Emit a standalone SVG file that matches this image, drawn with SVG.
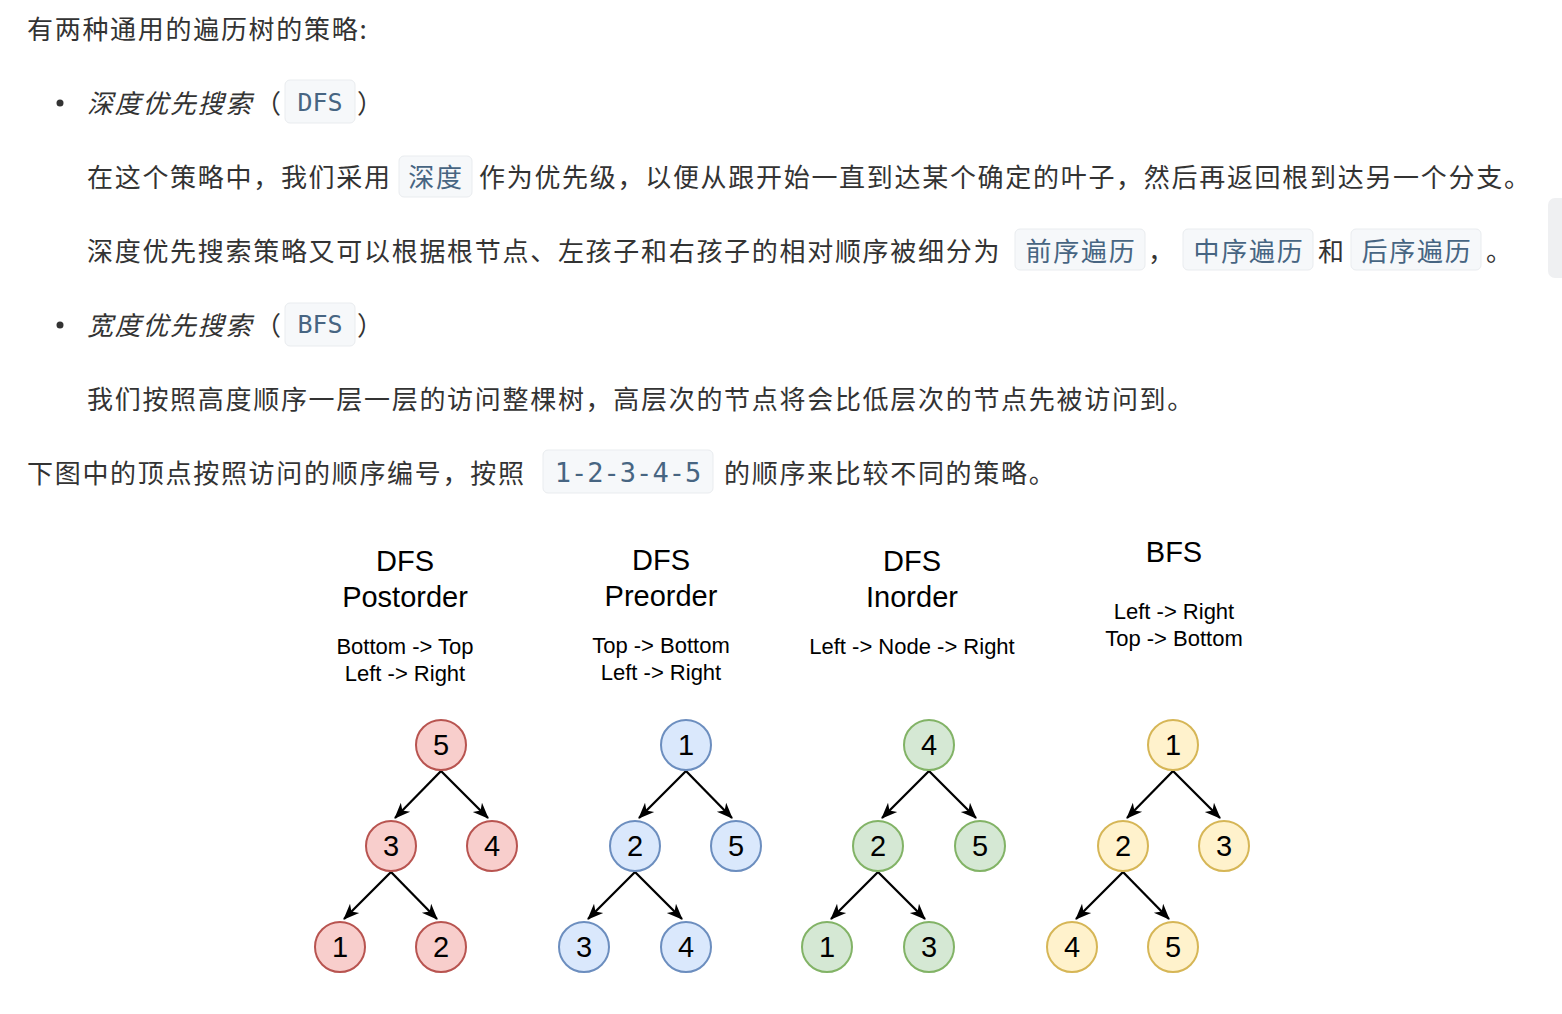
<svg xmlns="http://www.w3.org/2000/svg" width="1562" height="1014" viewBox="0 0 1562 1014">
<style>
.t{font-family:"Noto Sans CJK SC","Noto Sans",sans-serif;font-size:26px;letter-spacing:1.7px;fill:#333;dominant-baseline:central}
.it{font-style:italic}
.cb{fill:#f6f8fa;stroke:#e9ecef;stroke-width:1}
.ct{font-family:"Noto Sans CJK SC",sans-serif;font-size:26px;letter-spacing:1.7px;fill:#476582;dominant-baseline:central;text-anchor:middle}
.mono{font-family:"DejaVu Sans Mono","Liberation Mono",monospace;font-size:25px;letter-spacing:0;fill:#476582;dominant-baseline:central;text-anchor:middle}
.h{font-family:"Liberation Sans",Arial,sans-serif;font-size:29px;fill:#000;text-anchor:middle;dominant-baseline:central}
.s{font-family:"Liberation Sans",Arial,sans-serif;font-size:22px;fill:#000;text-anchor:middle;dominant-baseline:central}
.n{font-family:"Liberation Sans",Arial,sans-serif;font-size:29px;fill:#000;text-anchor:middle;dominant-baseline:central}
.red{fill:#f8cecc;stroke:#b85450;stroke-width:2}
.blue{fill:#dae8fc;stroke:#6c8ebf;stroke-width:2}
.green{fill:#d5e8d4;stroke:#82b366;stroke-width:2}
.yel{fill:#fff2cc;stroke:#d6b656;stroke-width:2}
.e{stroke:#000;stroke-width:2.3;fill:none;marker-end:url(#ah)}
</style>
<defs>
<marker id="ah" markerUnits="userSpaceOnUse" markerWidth="16" markerHeight="16" viewBox="0 0 16 16" refX="15" refY="8" orient="auto">
<path d="M0,1.5 L16,8 L0,14.5 L4.5,8 z" fill="#000"/>
</marker>
</defs>
<rect width="1562" height="1014" fill="#fff"/>

<g id="article">
<text class="t" x="27" y="27">有两种通用的遍历树的策略:</text>

<circle cx="60" cy="103" r="3.5" fill="#333"/>
<text class="t it" x="87" y="101">深度优先搜索</text>
<text class="t" x="255" y="101">（</text>
<rect class="cb" x="285" y="80" width="70" height="43" rx="5"/>
<text class="mono" x="320" y="102">DFS</text>
<text class="t" x="357" y="101">）</text>

<text class="t" x="87" y="175">在这个策略中，我们采用</text>
<rect class="cb" x="399" y="156" width="73" height="41" rx="5"/>
<text class="ct" x="436" y="175">深度</text>
<text class="t" x="479" y="175">作为优先级，以便从跟开始一直到达某个确定的叶子，然后再返回根到达另一个分支。</text>

<text class="t" x="87" y="249">深度优先搜索策略又可以根据根节点、左孩子和右孩子的相对顺序被细分为</text>
<rect class="cb" x="1015" y="229" width="130" height="41" rx="5"/>
<text class="ct" x="1081" y="249">前序遍历</text>
<text class="t" x="1148" y="249">，</text>
<rect class="cb" x="1183" y="229" width="130" height="41" rx="5"/>
<text class="ct" x="1249" y="249">中序遍历</text>
<text class="t" x="1318" y="249">和</text>
<rect class="cb" x="1351" y="229" width="130" height="41" rx="5"/>
<text class="ct" x="1417" y="249">后序遍历</text>
<text class="t" x="1486" y="249">。</text>

<circle cx="60" cy="325" r="3.5" fill="#333"/>
<text class="t it" x="87" y="323">宽度优先搜索</text>
<text class="t" x="255" y="323">（</text>
<rect class="cb" x="285" y="303" width="70" height="43" rx="5"/>
<text class="mono" x="320" y="324">BFS</text>
<text class="t" x="357" y="323">）</text>

<text class="t" x="87" y="397">我们按照高度顺序一层一层的访问整棵树，高层次的节点将会比低层次的节点先被访问到。</text>

<text class="t" x="27" y="471">下图中的顶点按照访问的顺序编号，按照</text>
<rect class="cb" x="543" y="450" width="170" height="43" rx="5"/>
<text class="mono" x="628" y="472" style="font-size:27px">1-2-3-4-5</text>
<text class="t" x="724" y="471">的顺序来比较不同的策略。</text>

<rect x="1548" y="198" width="24" height="80" rx="7" fill="#eff0f2"/>
</g>

<g id="labels">
<text class="h" x="405" y="561">DFS</text>
<text class="h" x="405" y="597">Postorder</text>
<text class="s" x="405" y="646">Bottom -&gt; Top</text>
<text class="s" x="405" y="673">Left -&gt; Right</text>

<text class="h" x="661" y="560">DFS</text>
<text class="h" x="661" y="596">Preorder</text>
<text class="s" x="661" y="645">Top -&gt; Bottom</text>
<text class="s" x="661" y="672">Left -&gt; Right</text>

<text class="h" x="912" y="561">DFS</text>
<text class="h" x="912" y="597">Inorder</text>
<text class="s" x="912" y="646">Left -&gt; Node -&gt; Right</text>

<text class="h" x="1174" y="552">BFS</text>
<text class="s" x="1174" y="611">Left -&gt; Right</text>
<text class="s" x="1174" y="638">Top -&gt; Bottom</text>
</g>

<g id="connectors">
<line class="e" x1="441" y1="771" x2="395" y2="818"/>
<line class="e" x1="441" y1="771" x2="488" y2="818"/>
<line class="e" x1="391" y1="872" x2="344" y2="919"/>
<line class="e" x1="391" y1="872" x2="437" y2="919"/>

<line class="e" x1="686" y1="771" x2="639" y2="818"/>
<line class="e" x1="686" y1="771" x2="732" y2="818"/>
<line class="e" x1="635" y1="872" x2="588" y2="919"/>
<line class="e" x1="635" y1="872" x2="682" y2="919"/>

<line class="e" x1="929" y1="771" x2="882" y2="818"/>
<line class="e" x1="929" y1="771" x2="976" y2="818"/>
<line class="e" x1="878" y1="872" x2="831" y2="919"/>
<line class="e" x1="878" y1="872" x2="925" y2="919"/>

<line class="e" x1="1173" y1="771" x2="1127" y2="818"/>
<line class="e" x1="1173" y1="771" x2="1220" y2="818"/>
<line class="e" x1="1123" y1="872" x2="1076" y2="919"/>
<line class="e" x1="1123" y1="872" x2="1169" y2="919"/>
</g>

<g id="post-5"><circle class="red" cx="441" cy="745" r="25"/><text class="n" x="441" y="745">5</text></g>
<g id="post-3"><circle class="red" cx="391" cy="846" r="25"/><text class="n" x="391" y="846">3</text></g>
<g id="post-4"><circle class="red" cx="492" cy="846" r="25"/><text class="n" x="492" y="846">4</text></g>
<g id="post-1"><circle class="red" cx="340" cy="947" r="25"/><text class="n" x="340" y="947">1</text></g>
<g id="post-2"><circle class="red" cx="441" cy="947" r="25"/><text class="n" x="441" y="947">2</text></g>

<g id="pre-1"><circle class="blue" cx="686" cy="745" r="25"/><text class="n" x="686" y="745">1</text></g>
<g id="pre-2"><circle class="blue" cx="635" cy="846" r="25"/><text class="n" x="635" y="846">2</text></g>
<g id="pre-5"><circle class="blue" cx="736" cy="846" r="25"/><text class="n" x="736" y="846">5</text></g>
<g id="pre-3"><circle class="blue" cx="584" cy="947" r="25"/><text class="n" x="584" y="947">3</text></g>
<g id="pre-4"><circle class="blue" cx="686" cy="947" r="25"/><text class="n" x="686" y="947">4</text></g>

<g id="in-4"><circle class="green" cx="929" cy="745" r="25"/><text class="n" x="929" y="745">4</text></g>
<g id="in-2"><circle class="green" cx="878" cy="846" r="25"/><text class="n" x="878" y="846">2</text></g>
<g id="in-5"><circle class="green" cx="980" cy="846" r="25"/><text class="n" x="980" y="846">5</text></g>
<g id="in-1"><circle class="green" cx="827" cy="947" r="25"/><text class="n" x="827" y="947">1</text></g>
<g id="in-3"><circle class="green" cx="929" cy="947" r="25"/><text class="n" x="929" y="947">3</text></g>

<g id="bfs-1"><circle class="yel" cx="1173" cy="745" r="25"/><text class="n" x="1173" y="745">1</text></g>
<g id="bfs-2"><circle class="yel" cx="1123" cy="846" r="25"/><text class="n" x="1123" y="846">2</text></g>
<g id="bfs-3"><circle class="yel" cx="1224" cy="846" r="25"/><text class="n" x="1224" y="846">3</text></g>
<g id="bfs-4"><circle class="yel" cx="1072" cy="947" r="25"/><text class="n" x="1072" y="947">4</text></g>
<g id="bfs-5"><circle class="yel" cx="1173" cy="947" r="25"/><text class="n" x="1173" y="947">5</text></g>
</svg>
